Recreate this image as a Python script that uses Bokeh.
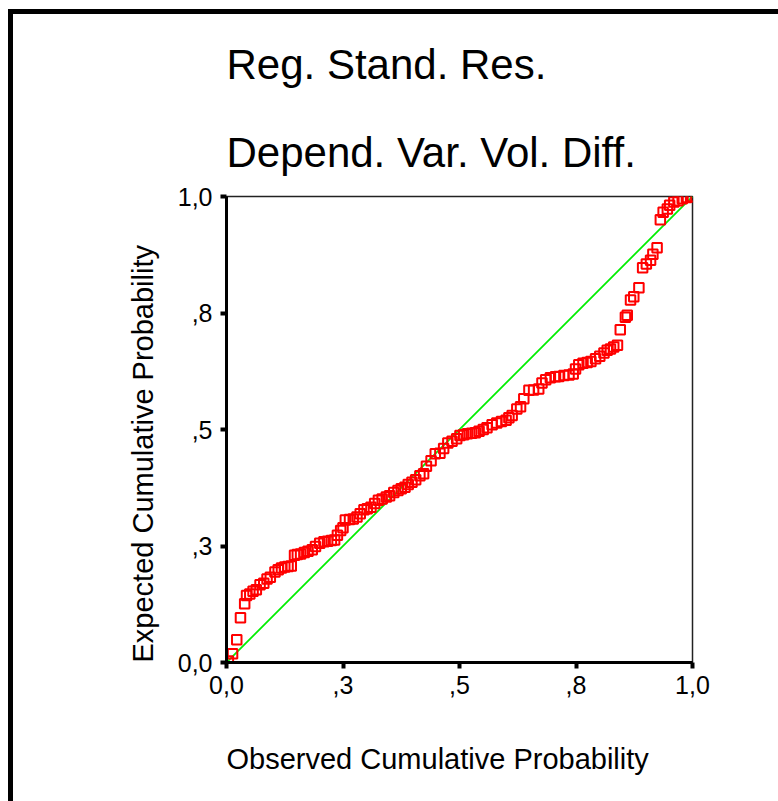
from bokeh.plotting import figure
from bokeh.models import FixedTicker, Title, Range1d, InlineStyleSheet
from bokeh.embed import file_html
from bokeh.resources import INLINE

# ---- data ----
observed = [0.004, 0.013, 0.022, 0.030, 0.039, 0.043, 0.050, 0.057, 0.064, 0.072,
            0.080, 0.087, 0.094, 0.104, 0.111, 0.118, 0.125, 0.132, 0.139, 0.146,
            0.152, 0.159, 0.167, 0.175, 0.184, 0.191, 0.200, 0.209, 0.217, 0.225,
            0.232, 0.238, 0.245, 0.250, 0.255, 0.264, 0.272, 0.280, 0.287, 0.295,
            0.302, 0.310, 0.318, 0.326, 0.334, 0.343, 0.350, 0.359, 0.368, 0.375,
            0.383, 0.390, 0.398, 0.406, 0.415, 0.423, 0.429, 0.439, 0.448, 0.458,
            0.466, 0.475, 0.484, 0.494, 0.501, 0.509, 0.517, 0.526, 0.534, 0.542,
            0.551, 0.559, 0.570, 0.580, 0.590, 0.600, 0.606, 0.613, 0.623, 0.631,
            0.638, 0.649, 0.659, 0.670, 0.677, 0.685, 0.695, 0.706, 0.713, 0.724,
            0.735, 0.744, 0.749, 0.756, 0.765, 0.774, 0.782, 0.792, 0.801, 0.810,
            0.817, 0.824, 0.831, 0.839, 0.845, 0.856, 0.860, 0.867, 0.874, 0.885,
            0.893, 0.901, 0.910, 0.915, 0.924, 0.931, 0.937, 0.946, 0.951, 0.960,
            0.969, 0.978, 0.987, 0.996, 1.000]
expected = [0.003, 0.019, 0.049, 0.096, 0.126, 0.144, 0.147, 0.153, 0.156, 0.167,
            0.170, 0.179, 0.183, 0.194, 0.199, 0.203, 0.205, 0.206, 0.207, 0.230,
            0.232, 0.233, 0.236, 0.239, 0.242, 0.249, 0.256, 0.259, 0.260, 0.262,
            0.263, 0.273, 0.283, 0.289, 0.306, 0.307, 0.308, 0.312, 0.319, 0.328,
            0.330, 0.333, 0.341, 0.348, 0.351, 0.355, 0.358, 0.365, 0.369, 0.373,
            0.376, 0.382, 0.387, 0.392, 0.401, 0.405, 0.421, 0.433, 0.448, 0.449,
            0.459, 0.471, 0.475, 0.480, 0.487, 0.489, 0.491, 0.492, 0.493, 0.496,
            0.500, 0.504, 0.510, 0.514, 0.517, 0.520, 0.525, 0.530, 0.544, 0.549,
            0.566, 0.584, 0.585, 0.587, 0.600, 0.607, 0.611, 0.613, 0.614, 0.616,
            0.617, 0.619, 0.630, 0.639, 0.642, 0.644, 0.646, 0.652, 0.657, 0.664,
            0.670, 0.673, 0.677, 0.681, 0.714, 0.741, 0.745, 0.778, 0.785, 0.804,
            0.847, 0.855, 0.863, 0.876, 0.890, 0.950, 0.966, 0.973, 0.981, 0.988,
            0.991, 0.995, 0.998, 0.999, 1.000]
diag_x = [0.0, 1.0]
diag_y = [0.0, 1.0]
tick_values = [0.0, 0.25, 0.5, 0.75, 1.0]
tick_labels = ["0,0", ",3", ",5", ",8", "1,0"]
title_lines = ["Reg. Stand. Res.", "Depend. Var. Vol. Diff."]
x_label = "Observed Cumulative Probability"
y_label = "Expected Cumulative Probability"

FONT = "Liberation Sans"

frame_css = InlineStyleSheet(css="""
:host::before {
  content: "";
  position: absolute;
  left: 8px;
  top: 9px;
  width: 800px;
  height: 820px;
  border-left: 5px solid black;
  border-top: 5px solid black;
  box-sizing: border-box;
  z-index: 10;
  pointer-events: none;
}
""")

p = figure(width=778, height=801, output_backend="svg", toolbar_location=None,
           x_range=Range1d(0, 1), y_range=Range1d(0, 1),
           min_border_left=226, min_border_right=86,
           min_border_top=196, min_border_bottom=139,
           background_fill_color="white", border_fill_color="white",
           stylesheets=[frame_css])
p.title.visible = False
p.grid.visible = False
p.outline_line_color = "#222222"
p.outline_line_width = 1.5

# titles (added nearest-first)
t2 = Title(text=title_lines[1], align="left", text_font=FONT, text_font_size="42px",
           text_font_style="normal", text_color="black", standoff=41)
t1 = Title(text=title_lines[0], align="left", text_font=FONT, text_font_size="42px",
           text_font_style="normal", text_color="black", standoff=38)
p.add_layout(t2, "above")
p.add_layout(t1, "above")

ticker = FixedTicker(ticks=tick_values)
for ax in (p.xaxis[0], p.yaxis[0]):
    ax.ticker = ticker
    ax.major_label_overrides = {v: s for v, s in zip(tick_values, tick_labels)}
    ax.axis_line_width = 3
    ax.axis_line_color = "black"
    ax.major_tick_in = 0
    ax.major_tick_out = 6
    ax.major_tick_line_width = 4
    ax.major_tick_line_color = "black"
    ax.minor_tick_line_color = None
    ax.major_label_text_font = FONT
    ax.major_label_text_font_size = "25px"
    ax.major_label_text_color = "black"

p.xaxis.major_label_standoff = 7
p.yaxis.major_label_standoff = 8

# spacer under the x tick labels (a blank 1px axis label) so the axis title
# can sit lower without shrinking the plot frame
p.xaxis.axis_label = " "
p.xaxis.axis_label_text_font_size = "1px"
p.xaxis.axis_label_standoff = 30

# axis titles, aligned to the axis origin as in the reference
xt = Title(text=x_label, align="left", text_font=FONT, text_font_size="29px",
           text_font_style="normal", text_color="black", standoff=20)
yt = Title(text=y_label, align="left", text_font=FONT, text_font_size="29px",
           text_font_style="normal", text_color="black", standoff=31)
p.add_layout(xt, "below")
p.add_layout(yt, "left")

p.line(diag_x, diag_y, line_color="#00ee00", line_width=1.8)
p.scatter(observed, expected, marker="square", size=9.5, fill_color=None,
          line_color="red", line_width=2)

open("out.html", "w").write(file_html(p, INLINE))
